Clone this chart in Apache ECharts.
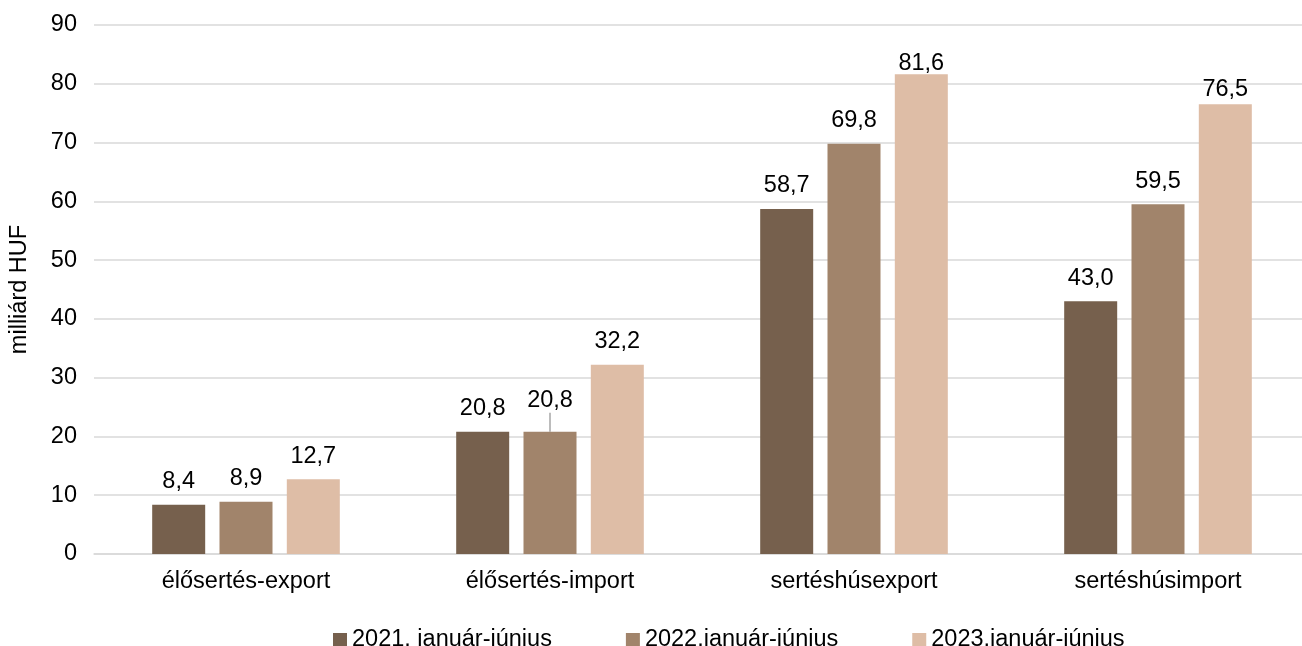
<!DOCTYPE html>
<html><head><meta charset="utf-8">
<script src="https://cdn.jsdelivr.net/npm/echarts@6/dist/echarts.min.js"></script>
<style>html,body{margin:0;padding:0;background:#fff;overflow:hidden;width:1302px;height:646px}#c{width:1310px;height:646px}</style>
</head><body><div id="c"></div>
<script>
const categories = ['élősertés-export', 'élősertés-import', 'sertéshúsexport', 'sertéshúsimport'];
const seriesNames = ['2021. január-június', '2022.január-június', '2023.január-június'];
const s2021 = [8.4, 20.8, 58.7, 43.0];
const s2022 = [8.9, 20.8, 69.8, 59.5];
const s2023 = [12.7, 32.2, 81.6, 76.5];
const colors = ['#76604D', '#A1846B', '#DEBDA6'];
const font = 'Liberation Sans, Arial, sans-serif';
const FS = 23.5;
const chart = echarts.init(document.getElementById('c'));
// label vertical adjustments (per series, per category) as in the reference
const labelShift = [[0, 0, 0, 0], [0, -8, 0, 0], [0, 0, 12, 8]];
function mk(i, data) {
  const d = data.map((v, j) => {
    if (i === 1 && j === 1) return { value: v, labelLine: { show: true, lineStyle: { color: '#a6a6a6', width: 1.5 } } };
    return { value: v };
  });
  return {
    name: seriesNames[i], type: 'bar', data: d,
    barWidth: 53, barGap: '27%',
    itemStyle: { color: colors[i] },
    label: { show: true, position: 'top', distance: 11, fontFamily: font, fontSize: FS, color: '#000',
      formatter: p => p.value.toFixed(1).replace('.', ',') },
    labelLine: { show: false },
    labelLayout: function (p) { const s = labelShift[i][p.dataIndex]; return s ? { dy: s } : {}; }
  };
}
chart.setOption({
  animation: false,
  grid: { left: 90, right: 0, top: 25, bottom: 92 },
  legend: { left: 328, top: 623, itemWidth: 14, itemHeight: 14, itemGap: 74, icon: 'rect',
    textStyle: { fontFamily: font, fontSize: FS, color: '#000' } },
  xAxis: { type: 'category', data: categories,
    axisLine: { lineStyle: { color: '#d9d9d9', width: 1.5 } }, axisTick: { show: false },
    axisLabel: { fontFamily: font, fontSize: FS, color: '#000', margin: 16 } },
  yAxis: { type: 'value', min: 0, max: 90, interval: 10,
    name: 'milliárd HUF', nameLocation: 'middle', nameGap: 62,
    nameTextStyle: { fontFamily: font, fontSize: FS, color: '#000' },
    axisLabel: { fontFamily: font, fontSize: FS, color: '#000', margin: 17 },
    splitLine: { lineStyle: { color: '#d9d9d9', width: 1.5 } } },
  series: [mk(0, s2021), mk(1, s2022), mk(2, s2023)]
});
</script></body></html>
